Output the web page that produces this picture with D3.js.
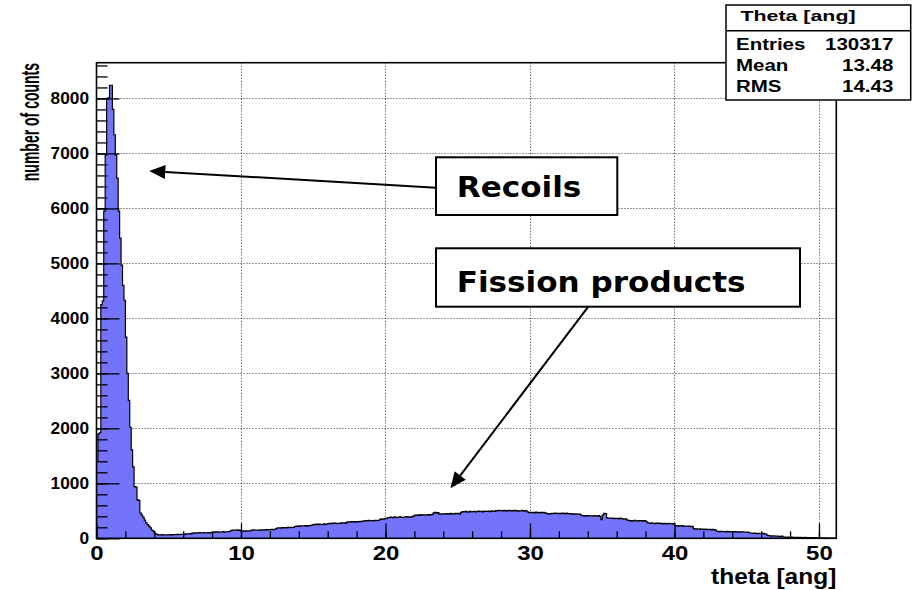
<!DOCTYPE html>
<html>
<head>
<meta charset="utf-8">
<script src="https://cdn.jsdelivr.net/npm/d3@7"></script>
<style>
  body { margin: 0; background: #fff; }
  svg { display: block; }
</style>
</head>
<body>
<svg width="916" height="590"></svg>
<script>
// histogram: 512 bins of 0.1 from 0 to 51.2
const binWidth = 0.1;
const xMax = 51.2;
const yMax = 8650;

// bins 0..40 (recoil peak)
const peakCounts = [
  1400, 1900, 1920, 4250, 4320, 5950, 6970, 8000, 8010, 8240,
  8240, 7800, 7340, 6970, 6550, 5950, 5460, 4970, 4600, 4330,
  3660, 3000, 2510, 2020, 1610, 1300, 940, 930, 700, 690,
  460, 420, 380, 330, 280, 250, 220, 190, 150, 130,
  95
];

// bins 41..511 (fission products)
const tailCounts = [
  75, 68, 64, 62, 66, 60, 63, 65, 61,
  64, 66, 62, 68, 65, 70, 67, 72, 69, 74,
  76, 72, 80, 78, 84, 82, 95, 98, 94, 100,
  97, 102, 99, 96, 104, 101, 98, 105, 100, 103,
  112, 108, 116, 113, 118, 110, 115, 120, 114, 117,
  119, 122, 128, 145, 150, 148, 146, 152, 144, 149,
  132, 135, 130, 134, 131, 136, 133, 148, 152, 150,
  146, 151, 149, 153, 148, 155, 150, 157, 154, 160,
  158, 162, 156, 165, 175, 188, 192, 186, 195, 190,
  194, 189, 197, 192, 199, 196, 200, 215, 222, 218,
  226, 220, 228, 224, 231, 222, 229, 225, 234, 240,
  252, 248, 256, 250, 258, 253, 249, 262, 255, 260,
  268, 272, 265, 275, 270, 278, 266, 274, 271, 279,
  276, 282, 273, 296, 300, 292, 305, 298, 303, 296,
  304, 299, 307, 301, 312, 318, 322, 315, 325, 319,
  323, 317, 326, 320, 328, 324, 345, 352, 348, 355,
  360, 372, 378, 385, 380, 376, 388, 383, 379, 386,
  390, 382, 378, 387, 393, 384, 389, 380, 395, 405,
  420, 415, 426, 418, 430, 422, 428, 419, 425, 432,
  421, 429, 436, 462, 470, 458, 468, 440, 446, 438,
  444, 450, 437, 448, 441, 453, 445, 439, 456, 447,
  452, 440, 470, 485, 478, 490, 482, 476, 488, 480,
  486, 492, 479, 487, 495, 483, 489, 481, 493, 488,
  490, 496, 485, 500, 494, 488, 505, 498, 510, 502,
  506, 499, 508, 495, 503, 510, 497, 505, 500, 507,
  498, 504, 496, 501, 507, 495, 502, 499, 480, 468,
  472, 465, 470, 462, 476, 468, 461, 473, 466, 470,
  464, 452, 445, 440, 448, 456, 450, 458, 453, 447,
  455, 449, 460, 452, 446, 457, 450, 444, 448, 441,
  446, 439, 443, 437, 442, 420, 412, 405, 415, 408,
  413, 406, 410, 402, 415, 409, 404, 411, 400, 340,
  420, 455, 448, 372, 365, 368, 360, 366, 358, 363,
  361, 355, 367, 359, 352, 348, 356, 330, 325, 318,
  322, 315, 326, 319, 312, 324, 317, 320, 313, 321,
  310, 285, 278, 272, 280, 274, 268, 277, 270, 275,
  266, 272, 264, 270, 262, 268, 271, 265, 260, 268,
  232, 226, 229, 220, 225, 230, 218, 224, 221, 216,
  222, 214, 219, 175, 168, 172, 165, 170, 162, 168,
  160, 166, 158, 164, 161, 155, 163, 157, 150, 128,
  125, 122, 128, 119, 124, 118, 126, 121, 117, 123,
  120, 116, 122, 118, 114, 119, 112, 117, 115, 110,
  113, 108, 96, 92, 88, 94, 90, 86, 92, 87,
  84, 89, 82, 78, 55, 48, 44, 40, 46, 42,
  38, 41, 36, 34, 39, 24, 20, 18, 22, 19,
  17, 20, 15, 18, 16, 19, 14, 17, 15, 13,
  16, 12, 15, 11, 14, 12, 10, 13, 9, 8,
  6, 7, 4, 6, 3, 5, 4, 2, 3, 1,
  2, 1
];

const xMajor = [0, 10, 20, 30, 40, 50];
const xMinor = d3.range(0, 51, 2);
const yMajor = [0, 1000, 2000, 3000, 4000, 5000, 6000, 7000, 8000];
const yMinor = d3.range(0, 8601, 200);

const statsTitle = 'Theta [ang]';
const statsNames = ['Entries', 'Mean', 'RMS'];
const statsValues = ['130317', '13.48', '14.43'];

const xTitle = 'theta [ang]';
const yTitle = 'number of counts';

const counts = peakCounts.concat(tailCounts);

const svg = d3.select('svg');
const font = 'Liberation Sans, Arial, Helvetica, sans-serif';

const x = d3.scaleLinear().domain([0, xMax]).range([96.5, 836.3]);
const y = d3.scaleLinear().domain([0, yMax]).range([538.3, 62.7]);

const defs = svg.append('defs');
defs.append('clipPath').attr('id', 'frameClip')
  .append('rect')
  .attr('x', x(0)).attr('y', y(yMax))
  .attr('width', x(xMax) - x(0)).attr('height', y(0) - y(yMax));

// grid
const grid = svg.append('g')
  .attr('stroke', '#333')
  .attr('stroke-width', 1)
  .attr('stroke-dasharray', '1,2');
grid.selectAll('.gx').data(xMajor.filter(d => d > 0)).join('line')
  .attr('x1', d => Math.round(x(d)) + 0.5).attr('x2', d => Math.round(x(d)) + 0.5)
  .attr('y1', y(yMax)).attr('y2', y(0));
grid.selectAll('.gy').data(yMajor.filter(d => d > 0)).join('line')
  .attr('y1', d => Math.round(y(d)) + 0.5).attr('y2', d => Math.round(y(d)) + 0.5)
  .attr('x1', x(0)).attr('x2', x(xMax));

// histogram as steps
let pts = [[0, 0]];
counts.forEach((c, i) => {
  pts.push([i * binWidth, c]);
  pts.push([(i + 1) * binWidth, c]);
});
pts.push([counts.length * binWidth, 0]);

const line = d3.line().x(d => x(d[0])).y(d => y(d[1]));

const hist = svg.append('g').attr('clip-path', 'url(#frameClip)');
hist.append('path')
  .attr('d', line(pts) + 'Z')
  .attr('fill', '#7373fb')
  .attr('stroke', 'none');
hist.append('path')
  .attr('d', line(pts))
  .attr('fill', 'none')
  .attr('stroke', '#000')
  .attr('stroke-width', 1.2);

// axes (ticks inside the frame)
const xAxisMinor = d3.axisBottom(x).tickValues(xMinor).tickSize(-7).tickFormat('');
const xAxisMajor = d3.axisBottom(x).tickValues(xMajor).tickSize(-15).tickPadding(8).tickFormat(d3.format('d'));
const yAxisMinor = d3.axisLeft(y).tickValues(yMinor).tickSize(-11).tickFormat('');
const yAxisMajor = d3.axisLeft(y).tickValues(yMajor).tickSize(-23).tickPadding(7.5).tickFormat(d3.format('d'));

function styleAxis(g) {
  g.select('.domain').remove();
  g.selectAll('line').attr('stroke', '#000').attr('stroke-width', 1.3);
}

svg.append('g').attr('transform', `translate(0,${y(0)})`).call(xAxisMinor).call(styleAxis);
const gx = svg.append('g').attr('transform', `translate(0,${y(0)})`).call(xAxisMajor).call(styleAxis);
gx.selectAll('text')
  .attr('font-family', font).attr('font-weight', 'bold').attr('font-size', 20)
  .attr('fill', '#000')
  .attr('transform', 'scale(1.2,1)');

svg.append('g').attr('transform', `translate(${x(0)},0)`).call(yAxisMinor).call(styleAxis);
const gy = svg.append('g').attr('transform', `translate(${x(0)},0)`).call(yAxisMajor).call(styleAxis);
gy.selectAll('text')
  .attr('font-family', font).attr('font-weight', 'bold').attr('font-size', 16)
  .attr('fill', '#000')
  .attr('x', -7.5 / 1.08)
  .attr('transform', 'scale(1.08,1)');

// frame
svg.append('rect')
  .attr('x', x(0)).attr('y', y(yMax))
  .attr('width', x(xMax) - x(0)).attr('height', y(0) - y(yMax))
  .attr('fill', 'none').attr('stroke', '#000').attr('stroke-width', 1.6);

// axis titles
svg.append('text')
  .attr('transform', `translate(${x(xMax)},584) scale(1.14,1)`)
  .attr('text-anchor', 'end')
  .attr('font-family', font).attr('font-weight', 'bold').attr('font-size', 21.5)
  .text(xTitle);

svg.append('text')
  .attr('transform', 'translate(38.5,63) rotate(-90) scale(1,1.8)')
  .attr('text-anchor', 'end')
  .attr('font-family', font).attr('font-weight', 'bold').attr('font-size', 14)
  .text(yTitle);

// stats box
const stats = svg.append('g');
stats.append('rect')
  .attr('x', 726).attr('y', 5).attr('width', 184.7).attr('height', 95)
  .attr('fill', '#fff').attr('stroke', '#000').attr('stroke-width', 1.5);
stats.append('line')
  .attr('x1', 726).attr('x2', 910.7).attr('y1', 30.7).attr('y2', 30.7)
  .attr('stroke', '#000').attr('stroke-width', 1.5);
stats.append('text')
  .attr('transform', 'translate(798,21) scale(1.38,1)')
  .attr('text-anchor', 'middle')
  .attr('font-family', font).attr('font-weight', 'bold').attr('font-size', 15.5)
  .text(statsTitle);
statsNames.forEach((n, i) => {
  const by = 50 + i * 21;
  stats.append('text')
    .attr('transform', `translate(736,${by}) scale(1.28,1)`)
    .attr('font-family', font).attr('font-weight', 'bold').attr('font-size', 16)
    .text(n);
  stats.append('text')
    .attr('transform', `translate(893.3,${by}) scale(1.28,1)`)
    .attr('text-anchor', 'end')
    .attr('font-family', font).attr('font-weight', 'bold').attr('font-size', 16)
    .text(statsValues[i]);
});

// annotations: box + arrow, arrow tip in data units
const notes = [
  { text: 'Recoils', box: [436, 157.3, 617.3, 215], base: 196.7, from: [436, 187.7], tip: [3.65, 6680] },
  { text: 'Fission products', box: [436, 248.3, 800, 306.7], base: 291.7, from: [588.3, 306.7], tip: [24.5, 910] }
];
const annFont = 'DejaVu Sans, Verdana, sans-serif';

notes.forEach(n => {
  const g = svg.append('g');
  const tx = x(n.tip[0]), ty = y(n.tip[1]);
  const [fx, fy] = n.from;
  const ang = Math.atan2(fy - ty, fx - tx);
  const L = 16, W = 7;
  const bx = tx + L * Math.cos(ang), by = ty + L * Math.sin(ang);
  g.append('line')
    .attr('x1', fx).attr('y1', fy).attr('x2', bx).attr('y2', by)
    .attr('stroke', '#000').attr('stroke-width', 2);
  g.append('polygon')
    .attr('points', [
      [tx, ty],
      [bx + W * Math.sin(ang), by - W * Math.cos(ang)],
      [bx - W * Math.sin(ang), by + W * Math.cos(ang)]
    ].map(p => p.join(',')).join(' '))
    .attr('fill', '#000');
  g.append('rect')
    .attr('x', n.box[0]).attr('y', n.box[1])
    .attr('width', n.box[2] - n.box[0]).attr('height', n.box[3] - n.box[1])
    .attr('fill', '#fff').attr('stroke', '#000').attr('stroke-width', 2);
  g.append('text')
    .attr('transform', `translate(456.7,${n.base}) scale(1.11,1)`)
    .attr('font-family', annFont).attr('font-weight', 'bold').attr('font-size', 28)
    .text(n.text);
});
</script>
</body>
</html>
